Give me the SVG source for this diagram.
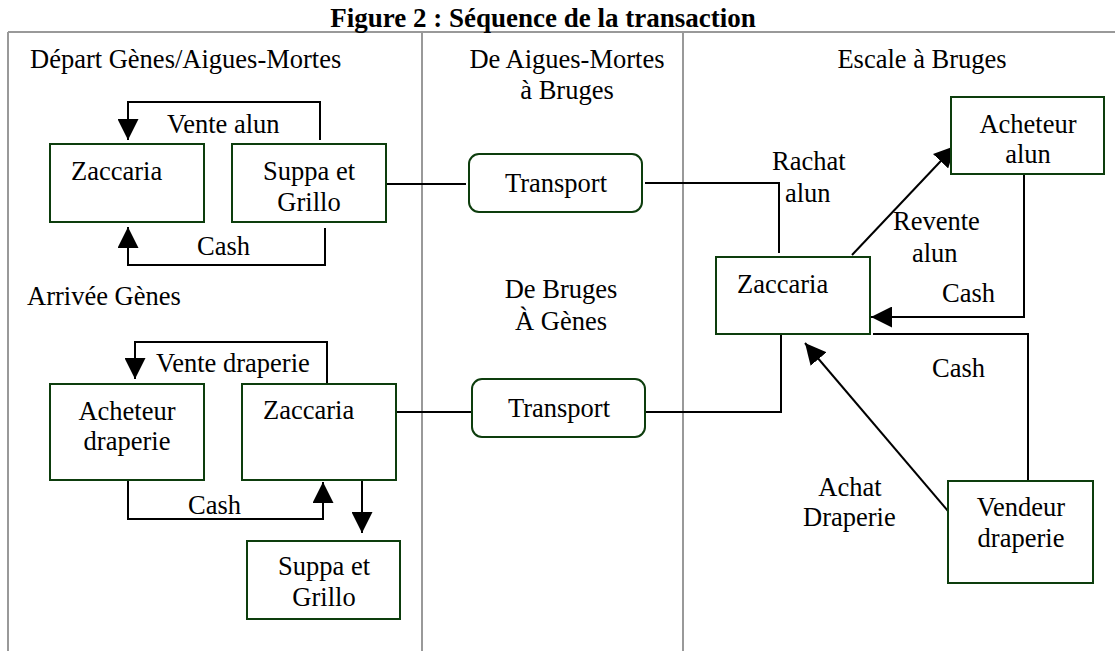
<svg xmlns="http://www.w3.org/2000/svg" width="1115" height="651" viewBox="0 0 1115 651">
<defs>
<marker id="ah" markerUnits="userSpaceOnUse" markerWidth="21" markerHeight="21" refX="21" refY="10.5" orient="auto" viewBox="0 0 21 21">
<path d="M0,0 L21,10.5 L0,21 z" fill="#000"/>
</marker>
<style>
text{font-family:"Liberation Serif","Times New Roman",serif;font-size:26.5px;fill:#000}
.t{font-weight:bold;font-size:27px}
.m{text-anchor:middle}
.box{fill:#fff;stroke:#0d3d0d;stroke-width:2}
.frame{stroke:#999;stroke-width:2;fill:none}
.c{fill:none;stroke:#000;stroke-width:2}
.a{marker-end:url(#ah)}
</style>
</defs>
<rect width="1115" height="651" fill="#fff"/>
<g id="frame">
<line class="frame" x1="8" y1="32" x2="1115" y2="32"/>
<line class="frame" x1="8" y1="32" x2="8" y2="651"/>
<line class="frame" x1="422" y1="32" x2="422" y2="651"/>
<line class="frame" x1="683" y1="32" x2="683" y2="651"/>
</g>
<text class="t m" x="543" y="27">Figure 2 : Séquence de la transaction</text>
<g id="headers">
<text x="30" y="68">Départ Gènes/Aigues-Mortes</text>
<text class="m" x="567" y="68">De Aigues-Mortes</text>
<text class="m" x="567" y="99">à Bruges</text>
<text class="m" x="922" y="68">Escale à Bruges</text>
<text x="27" y="305">Arrivée Gènes</text>
<text class="m" x="561" y="298">De Bruges</text>
<text class="m" x="561" y="330">À Gènes</text>
</g>
<g id="connectors">
<path class="c a" d="M320,140 V102 H128 V140"/>
<path class="c a" d="M325,228 V265 H128 V227"/>
<path class="c" d="M386,184 H466"/>
<path class="c" d="M645,183 H779 V253"/>
<path class="c" d="M396,412 H472"/>
<path class="c" d="M645,412 H781 V334"/>
<path class="c a" d="M852,255 L955,146"/>
<path class="c a" d="M1024,174 V317 H871"/>
<path class="c" d="M873,334 H1028 V482"/>
<path class="c a" d="M948,511 L805,343"/>
<path class="c a" d="M327,384 V342 H135 V379"/>
<path class="c a" d="M128,480 V519 H323 V482"/>
<path class="c a" d="M362,480 V533"/>
</g>
<g id="labels">
<text x="167" y="133">Vente alun</text>
<text x="197" y="255">Cash</text>
<text x="772" y="170">Rachat</text>
<text x="785" y="202">alun</text>
<text x="893" y="230">Revente</text>
<text x="912" y="262">alun</text>
<text x="942" y="302">Cash</text>
<text x="932" y="377">Cash</text>
<text class="m" x="850" y="496">Achat</text>
<text x="803" y="526">Draperie</text>
<text x="156" y="372">Vente draperie</text>
<text x="188" y="514">Cash</text>
</g>
<g id="n-zaccaria1">
<rect class="box" x="50" y="144" width="154" height="78"/>
<text x="71" y="180">Zaccaria</text>
</g>
<g id="n-suppa1">
<rect class="box" x="232" y="144" width="154" height="78"/>
<text class="m" x="309" y="180">Suppa et</text>
<text class="m" x="309" y="211">Grillo</text>
</g>
<g id="n-transport1">
<rect class="box" x="469" y="154" width="173" height="58" rx="10"/>
<text class="m" x="556" y="192">Transport</text>
</g>
<g id="n-transport2">
<rect class="box" x="472" y="379" width="173" height="58" rx="10"/>
<text class="m" x="559" y="417">Transport</text>
</g>
<g id="n-zaccaria-bruges">
<rect class="box" x="716" y="257" width="154" height="77"/>
<text x="737" y="293">Zaccaria</text>
</g>
<g id="n-acheteur-alun">
<rect class="box" x="951" y="97" width="153" height="77"/>
<text class="m" x="1028" y="133">Acheteur</text>
<text class="m" x="1028" y="163">alun</text>
</g>
<g id="n-vendeur-draperie">
<rect class="box" x="948" y="481" width="145" height="102"/>
<text class="m" x="1021" y="516">Vendeur</text>
<text class="m" x="1021" y="547">draperie</text>
</g>
<g id="n-acheteur-draperie">
<rect class="box" x="50" y="384" width="154" height="96"/>
<text class="m" x="127" y="420">Acheteur</text>
<text class="m" x="127" y="450">draperie</text>
</g>
<g id="n-zaccaria2">
<rect class="box" x="242" y="384" width="154" height="96"/>
<text x="263" y="419">Zaccaria</text>
</g>
<g id="n-suppa2">
<rect class="box" x="247" y="541" width="153" height="78"/>
<text class="m" x="324" y="575">Suppa et</text>
<text class="m" x="324" y="606">Grillo</text>
</g>
</svg>
